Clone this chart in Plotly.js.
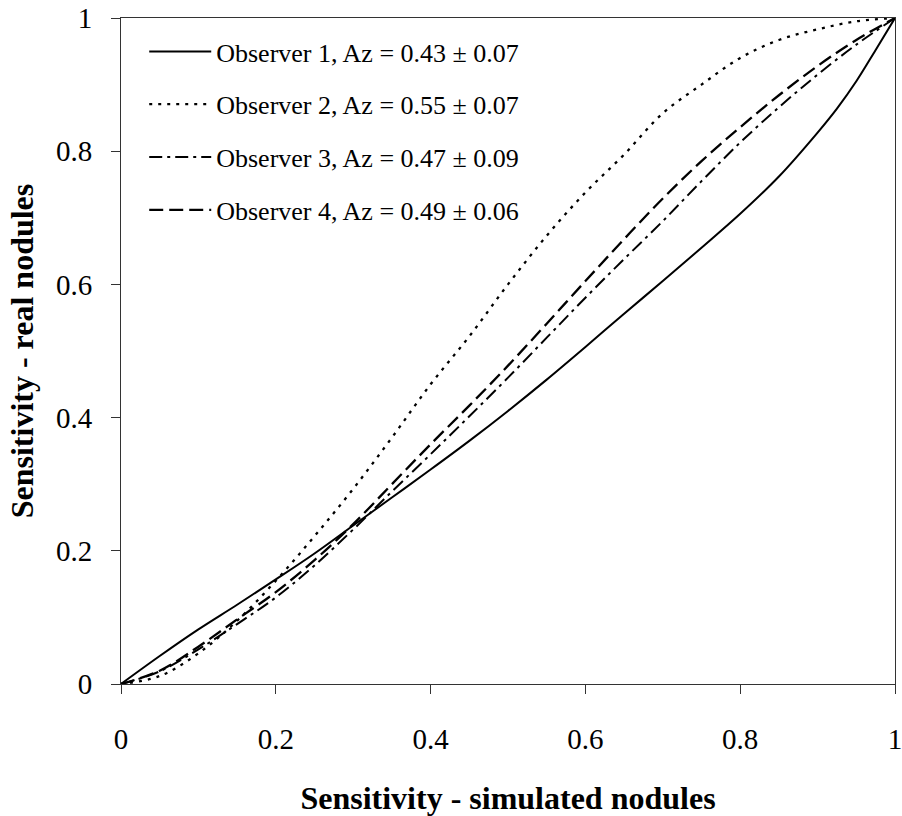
<!DOCTYPE html>
<html>
<head>
<meta charset="utf-8">
<script src="https://cdn.plot.ly/plotly-3.0.1.min.js"></script>
<style>html,body{margin:0;padding:0;background:#fff;}#chart{width:902px;height:816px;}</style>
</head>
<body>
<div id="chart"></div>
<script>
// ROC-type curves
const xGrid = [0,0.05,0.1,0.15,0.2,0.25,0.3,0.35,0.4,0.45,0.5,0.55,0.6,0.65,0.7,0.75,0.8,0.85,0.9,0.95,1];

const obs1X = [0,0.05,0.1,0.15,0.2,0.25,0.3,0.35,0.4,0.45,0.5,0.55,0.6,0.65,0.7,0.75,0.8,0.85,0.9,0.925,0.95,0.975,1];
const obs1Y = [0,0.042,0.082,0.119,0.157,0.196,0.238,0.28,0.322,0.365,0.41,0.457,0.506,0.556,0.605,0.655,0.706,0.762,0.828,0.864,0.905,0.952,1];

const obs2Y = [0,0.012,0.046,0.095,0.155,0.222,0.293,0.37,0.45,0.522,0.6,0.673,0.738,0.795,0.857,0.9,0.94,0.967,0.983,0.995,1];
const obs3Y = [0,0.019,0.052,0.09,0.13,0.178,0.232,0.289,0.345,0.402,0.46,0.52,0.58,0.638,0.695,0.755,0.813,0.866,0.915,0.96,1];
const obs4Y = [0,0.02,0.056,0.097,0.138,0.186,0.24,0.3,0.36,0.418,0.478,0.541,0.605,0.668,0.729,0.785,0.836,0.884,0.928,0.967,1];

const seriesNames = [
  'Observer 1, Az = 0.43 ± 0.07',
  'Observer 2, Az = 0.55 ± 0.07',
  'Observer 3, Az = 0.47 ± 0.09',
  'Observer 4, Az = 0.49 ± 0.06'
];

const tickVals = [0,0.2,0.4,0.6,0.8,1];
const tickText = ['0','0.2','0.4','0.6','0.8','1'];

const FONT = 'Liberation Serif, Times New Roman, serif';

const traces = [
  {x: obs1X, y: obs1Y, name: seriesNames[0], legendgroup:'a', mode:'lines',
   line:{color:'#000', width:2, dash:'solid', shape:'spline'}},
  {x: xGrid, y: obs2Y, name: seriesNames[1], legendgroup:'b', mode:'lines',
   line:{color:'#000', width:2.3, dash:'3px,6px', shape:'spline'}},
  {x: xGrid, y: obs3Y, name: seriesNames[2], legendgroup:'c', mode:'lines',
   line:{color:'#000', width:2, dash:'13px,5px,3px,5px', shape:'spline'}},
  {x: xGrid, y: obs4Y, name: seriesNames[3], legendgroup:'d', mode:'lines',
   line:{color:'#000', width:2.3, dash:'14px,6px', shape:'spline'}}
];

const layout = {
  width: 902, height: 816,
  margin: {l:121, r:7, t:18, b:132},
  paper_bgcolor:'#fff', plot_bgcolor:'#fff',
  font: {family: FONT, size: 28, color:'#000'},
  showlegend: true,
  legend: {
    x: 0.03, y: 0.985, xanchor:'left', yanchor:'top',
    bgcolor:'rgba(0,0,0,0)', borderwidth:0,
    traceorder:'grouped', tracegroupgap: 16,
    itemwidth: 62,
    font: {family: FONT, size: 26, color:'#000'}
  },
  xaxis: {
    range:[0,1], tickmode:'array', tickvals: tickVals, ticktext: tickText,
    ticks:'outside', ticklen:9, tickwidth:1, tickcolor:'#333',
    showline:true, linecolor:'#333', linewidth:1, mirror:true,
    showgrid:false, zeroline:false, ticklabelstandoff: 20,
    ticklabeloverflow:'allow',
    tickfont:{family: FONT, size:29, color:'#000'},
    title:{text:'<b>Sensitivity - simulated nodules</b>', standoff: 32,
           font:{family: FONT, size:32, color:'#000'}}
  },
  yaxis: {
    range:[0,1], tickmode:'array', tickvals: tickVals, ticktext: tickText,
    ticks:'outside', ticklen:9, tickwidth:1, tickcolor:'#333',
    showline:true, linecolor:'#333', linewidth:1, mirror:true,
    showgrid:false, zeroline:false, ticklabelstandoff: 13,
    ticklabeloverflow:'allow',
    tickfont:{family: FONT, size:29, color:'#000'},
    title:{text:'<b>Sensitivity - real nodules</b>', standoff: 12,
           font:{family: FONT, size:32, color:'#000'}}
  }
};

Plotly.newPlot('chart', traces, layout, {displayModeBar:false, staticPlot:true});
</script>
</body>
</html>
